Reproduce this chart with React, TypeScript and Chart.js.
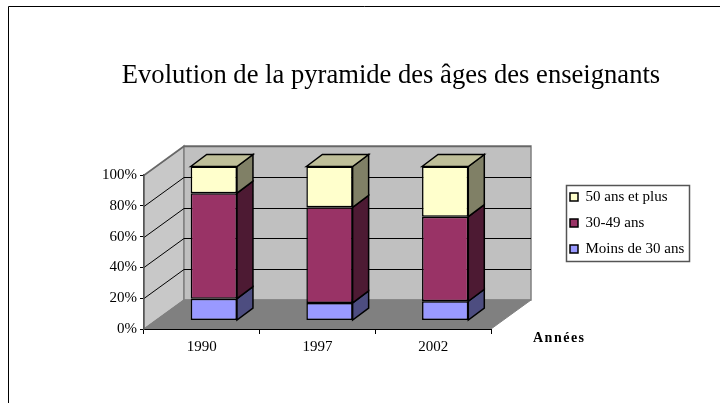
import React, { useEffect, useRef } from "react";
import { Chart, registerables } from "chart.js";

Chart.register(...registerables);

const categories = ["1990", "1997", "2002"];
const under30 = [14.2, 11.4, 12.5];
const mid3049 = [68.5, 62.1, 54.9];
const over50 = [17.3, 26.5, 32.6];
const seriesNames = ["Moins de 30 ans", "30-49 ans", "50 ans et plus"];
const chartTitle = "Evolution de la pyramide des âges des enseignants";
const xTitle = "Années";

const FRONT = ["#9999FF", "#993366", "#FFFFCC"];
const SIDE = ["#4D4D80", "#4D1A33", "#808066"];
const TOP = ["#7373BF", "#732649", "#BFBF99"];
const FONT = "'Liberation Serif'";
const DEPTH_X = 40, DEPTH_Y = 29;
const BAR_SHIFT_X = 12, BAR_SHIFT_Y = 8.5;
const BAR_DX = 16, BAR_DY = 12;

function poly(ctx: CanvasRenderingContext2D, pts: number[][], fill: string | null, stroke: string | null, lw = 1) {
  ctx.beginPath();
  pts.forEach((p, i) => (i ? ctx.lineTo(p[0], p[1]) : ctx.moveTo(p[0], p[1])));
  ctx.closePath();
  if (fill) { ctx.fillStyle = fill; ctx.fill(); }
  if (stroke) { ctx.strokeStyle = stroke; ctx.lineWidth = lw; ctx.stroke(); }
}

const scene3d = {
  id: "scene3d",
  afterLayout(chart: any) {
    const lg = chart.legend;
    lg.left = 559; lg.right = 700; lg.top = 178.5; lg.bottom = 360;
    lg.width = 141; lg.height = 181.5;
  },
  beforeDraw(chart: any) {
    const { ctx, chartArea: a, scales } = chart;
    const L = a.left, R = a.right, T = a.top, B = a.bottom;
    ctx.save();
    ctx.fillStyle = "#FFFFFF";
    ctx.fillRect(0, 0, chart.width, chart.height);
    ctx.strokeStyle = "#000000";
    ctx.lineWidth = 1;
    ctx.beginPath();
    ctx.moveTo(8.5, chart.height);
    ctx.lineTo(8.5, 6.5);
    ctx.lineTo(chart.width, 6.5);
    ctx.stroke();
    poly(ctx, [[L, T], [L + DEPTH_X, T - DEPTH_Y], [L + DEPTH_X, B - DEPTH_Y], [L, B]], "#C8C8C8", "#808080", 1.5);
    poly(ctx, [[L + DEPTH_X, T - DEPTH_Y], [R + DEPTH_X, T - DEPTH_Y], [R + DEPTH_X, B - DEPTH_Y], [L + DEPTH_X, B - DEPTH_Y]], "#C0C0C0", "#808080", 1.5);
    poly(ctx, [[L, B], [L + DEPTH_X, B - DEPTH_Y], [R + DEPTH_X, B - DEPTH_Y], [R, B]], "#808080", "#808080", 1);
    scales.y.ticks.forEach((t: any) => {
      if (t.value === 0) return;
      const y = Math.round(scales.y.getPixelForValue(t.value)) + 0.5;
      ctx.strokeStyle = t.value === 100 ? "#666666" : "#000000";
      ctx.lineWidth = t.value === 100 ? 1.5 : 1;
      ctx.beginPath();
      ctx.moveTo(L, y);
      ctx.lineTo(L + DEPTH_X, y - DEPTH_Y);
      ctx.lineTo(R + DEPTH_X, y - DEPTH_Y);
      ctx.stroke();
    });
    ctx.restore();
  },
  beforeDatasetsDraw(chart: any) {
    const { ctx } = chart;
    ctx.save();
    ctx.translate(BAR_SHIFT_X, -BAR_SHIFT_Y);
    const n = chart.data.datasets.length;
    categories.forEach((_, c) => {
      for (let d = 0; d < n; d++) {
        const bar = chart.getDatasetMeta(d).data[c] as any;
        const right = bar.x + bar.width / 2;
        const left = bar.x - bar.width / 2;
        poly(ctx, [[right, bar.y], [right + BAR_DX, bar.y - BAR_DY], [right + BAR_DX, bar.base - BAR_DY], [right, bar.base]], SIDE[d], "#000000", 1.5);
        if (d === n - 1) {
          poly(ctx, [[left, bar.y], [left + BAR_DX, bar.y - BAR_DY], [right + BAR_DX, bar.y - BAR_DY], [right, bar.y]], TOP[d], "#000000", 1.5);
        }
      }
    });
  },
  afterDatasetsDraw(chart: any) {
    chart.ctx.restore();
  },
  afterDraw(chart: any) {
    const { ctx } = chart;
    ctx.save();
    ctx.fillStyle = "#000000";
    ctx.font = `bold 14px ${FONT}`;
    ctx.textAlign = "left";
    ctx.textBaseline = "middle";
    ctx.letterSpacing = "1.5px";
    ctx.fillText(xTitle, 533, 338);
    ctx.restore();
    ctx.save();
    ctx.strokeStyle = "#555555";
    ctx.lineWidth = 1.5;
    ctx.strokeRect(566.5, 185.5, 123, 76);
    ctx.restore();
  },
};

export default function App() {
  const ref = useRef<HTMLCanvasElement>(null);
  useEffect(() => {
    const chart = new Chart(ref.current!, {
      type: "bar",
      data: {
        labels: categories,
        datasets: [under30, mid3049, over50].map((data, i) => ({
          label: seriesNames[i],
          data,
          backgroundColor: FRONT[i],
          borderColor: "#000000",
          borderWidth: 1.5,
          borderSkipped: false,
          barPercentage: 0.4,
          categoryPercentage: 1,
          clip: false as any,
          yAxisID: "y",
          xAxisID: "x",
        })),
      },
      options: {
        responsive: false,
        animation: false,
        layout: { padding: { left: 62, top: 0, right: 0, bottom: 0 } },
        plugins: {
          tooltip: { enabled: false },
          title: {
            display: true,
            text: chartTitle,
            color: "#000000",
            font: { family: FONT, size: 26.6, weight: "normal", lineHeight: 1.2 },
            padding: { top: 60.5, bottom: 82.58 },
          },
          legend: {
            display: true,
            position: "chartArea" as any,
            align: "start",
            reverse: true,
            labels: {
              color: "#000000",
              font: { family: FONT, size: 15 },
              boxWidth: 8,
              boxHeight: 8,
              padding: 11,
            },
          },
        },
        scales: {
          x: {
            stacked: true,
            afterFit: (s: any) => { s.height = 74; },
            border: { color: "#000000", width: 1 },
            grid: { display: true, drawOnChartArea: false, drawTicks: true, tickLength: 5, color: "#000000", offset: true },
            ticks: { color: "#000000", font: { family: FONT, size: 15 }, padding: 4.5, maxRotation: 0 },
          },
          y: {
            stacked: true,
            min: 0,
            max: 100,
            afterFit: (s: any) => { s.width = 82; },
            border: { color: "#555555", width: 1.5 },
            grid: { display: true, drawOnChartArea: false, drawTicks: true, tickLength: 4, color: "#000000" },
            ticks: {
              stepSize: 20,
              color: "#000000",
              font: { family: FONT, size: 15 },
              padding: 3,
              callback: (v: any) => `${v}%`,
            },
          },
          spacer: {
            type: "linear",
            axis: "y",
            position: "right",
            display: true,
            min: 0,
            max: 100,
            afterFit: (s: any) => { s.width = 229; },
            border: { display: false },
            grid: { display: false },
            ticks: { display: false },
          },
        },
      },
      plugins: [scene3d],
    });
    return () => chart.destroy();
  }, []);
  return (
    <canvas
      ref={ref}
      width={720}
      height={403}
      style={{ position: "fixed", left: 0, top: 0, width: 720, height: 403, display: "block" }}
    />
  );
}
